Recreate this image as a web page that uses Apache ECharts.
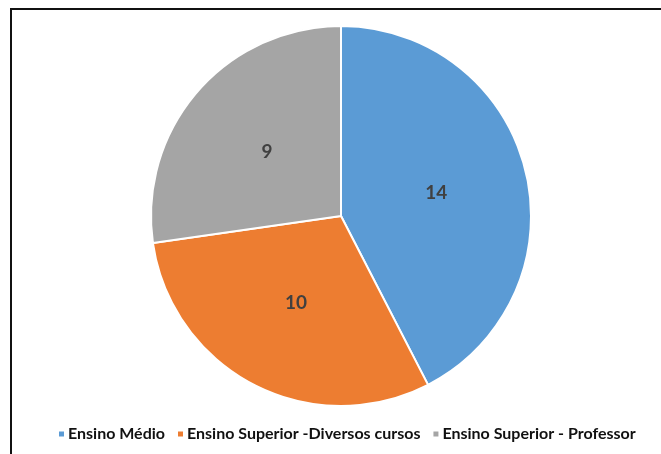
<!DOCTYPE html>
<html>
<head>
<meta charset="utf-8">
<script src="https://cdn.jsdelivr.net/npm/echarts@6/dist/echarts.min.js"></script>
<style>
  html, body { margin: 0; padding: 0; background: #fff; }
  #chart { width: 661px; height: 454px; }
</style>
</head>
<body>
<div id="chart"></div>
<script>
const categories = ['Ensino Médio', 'Ensino Superior -Diversos cursos', 'Ensino Superior - Professor'];
const values = [14, 10, 9];
const colors = ['#5B9BD5', '#ED7D31', '#A5A5A5'];

const chart = echarts.init(document.getElementById('chart'));
chart.setOption({
    animation: false,
    color: colors,
    graphic: [{
        type: 'rect',
        shape: { x: 11, y: 9, width: 700, height: 500 },
        style: { fill: 'none', stroke: '#111', lineWidth: 2 }
    }],
    legend: {
        bottom: 7,
        left: 52,
        itemWidth: 7, itemHeight: 7, itemGap: 11,
        icon: 'rect',
        textStyle: { fontFamily: 'Lato', fontWeight: 'bold', fontSize: 16, color: '#111', padding: [0, 0, 0, -2] },
        data: categories
    },
    series: [{
        type: 'pie',
        center: [341, 216],
        radius: 190,
        startAngle: 90,
        clockwise: true,
        itemStyle: { borderColor: '#fff', borderWidth: 2 },
        label: {
            position: 'inside',
            formatter: '{c}',
            fontFamily: 'Lato', fontWeight: 'bold', fontSize: 19, color: '#404040'
        },
        labelLine: { show: false },
        data: categories.map((name, i) => ({ name: name, value: values[i] }))
    }]
});
</script>
</body>
</html>
